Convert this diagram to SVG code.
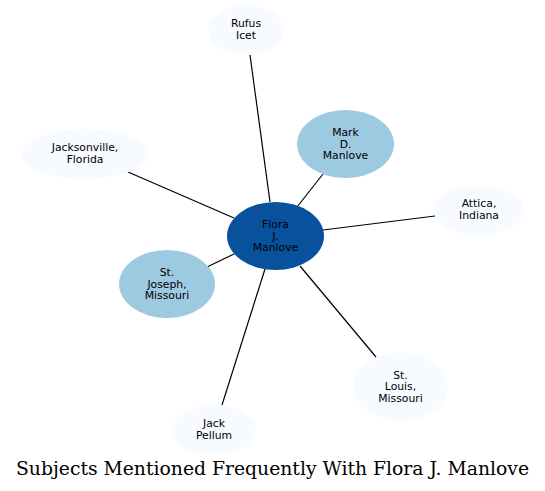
<svg xmlns="http://www.w3.org/2000/svg" width="545" height="491" viewBox="0 0 545 491">
<style>
.t{font-family:"DejaVu Sans",sans-serif;font-size:10.8px;text-anchor:middle;fill:#000}
.light{fill:#f7fbff}
.mid{fill:#9ecae1}
.dark{fill:#08519c}
.e{stroke:#000;stroke-width:1.2;fill:none}
.title{font-family:"DejaVu Serif",serif;font-size:19px;text-anchor:middle;fill:#000}
</style>
<rect width="545" height="491" fill="#fff"/>
<g id="connectors">
<line class="e" x1="250" y1="55" x2="270" y2="202"/>
<line class="e" x1="323" y1="174" x2="297" y2="207"/>
<line class="e" x1="128" y1="172" x2="234" y2="218"/>
<line class="e" x1="435" y1="216" x2="323" y2="230"/>
<line class="e" x1="207" y1="267" x2="234" y2="254"/>
<line class="e" x1="222" y1="405" x2="265" y2="269"/>
<line class="e" x1="376" y1="357" x2="300" y2="266"/>
</g>
<g id="flora">
<ellipse class="dark" cx="275.5" cy="236" rx="48.5" ry="34"/>
<text class="t" x="275.5" y="228">Flora</text>
<text class="t" x="275.5" y="239.5">J.</text>
<text class="t" x="275.5" y="251">Manlove</text>
</g>
<g id="mark">
<ellipse class="mid" cx="345.5" cy="144" rx="48.5" ry="34"/>
<text class="t" x="345.5" y="136">Mark</text>
<text class="t" x="345.5" y="147.5">D.</text>
<text class="t" x="345.5" y="159">Manlove</text>
</g>
<g id="rufus">
<ellipse class="light" cx="246" cy="30" rx="38" ry="25"/>
<text class="t" x="246" y="27">Rufus</text>
<text class="t" x="246" y="38.5">Icet</text>
</g>
<g id="jacksonville">
<ellipse class="light" cx="85" cy="154" rx="63" ry="25"/>
<text class="t" x="85" y="151">Jacksonville,</text>
<text class="t" x="85" y="162.5">Florida</text>
</g>
<g id="attica">
<ellipse class="light" cx="479" cy="210" rx="45" ry="25"/>
<text class="t" x="479" y="207">Attica,</text>
<text class="t" x="479" y="218.5">Indiana</text>
</g>
<g id="stjoseph">
<ellipse class="mid" cx="167" cy="284" rx="48" ry="34"/>
<text class="t" x="167" y="276">St.</text>
<text class="t" x="167" y="287.5">Joseph,</text>
<text class="t" x="167" y="299">Missouri</text>
</g>
<g id="stlouis">
<ellipse class="light" cx="400.5" cy="386.5" rx="47.5" ry="34"/>
<text class="t" x="400.5" y="378.5">St.</text>
<text class="t" x="400.5" y="390">Louis,</text>
<text class="t" x="400.5" y="401.5">Missouri</text>
</g>
<g id="jackpellum">
<ellipse class="light" cx="214" cy="430" rx="42" ry="25"/>
<text class="t" x="214" y="427">Jack</text>
<text class="t" x="214" y="438.5">Pellum</text>
</g>
<text class="title" x="272.5" y="475" textLength="513" lengthAdjust="spacingAndGlyphs">Subjects Mentioned Frequently With Flora J. Manlove</text>
</svg>
